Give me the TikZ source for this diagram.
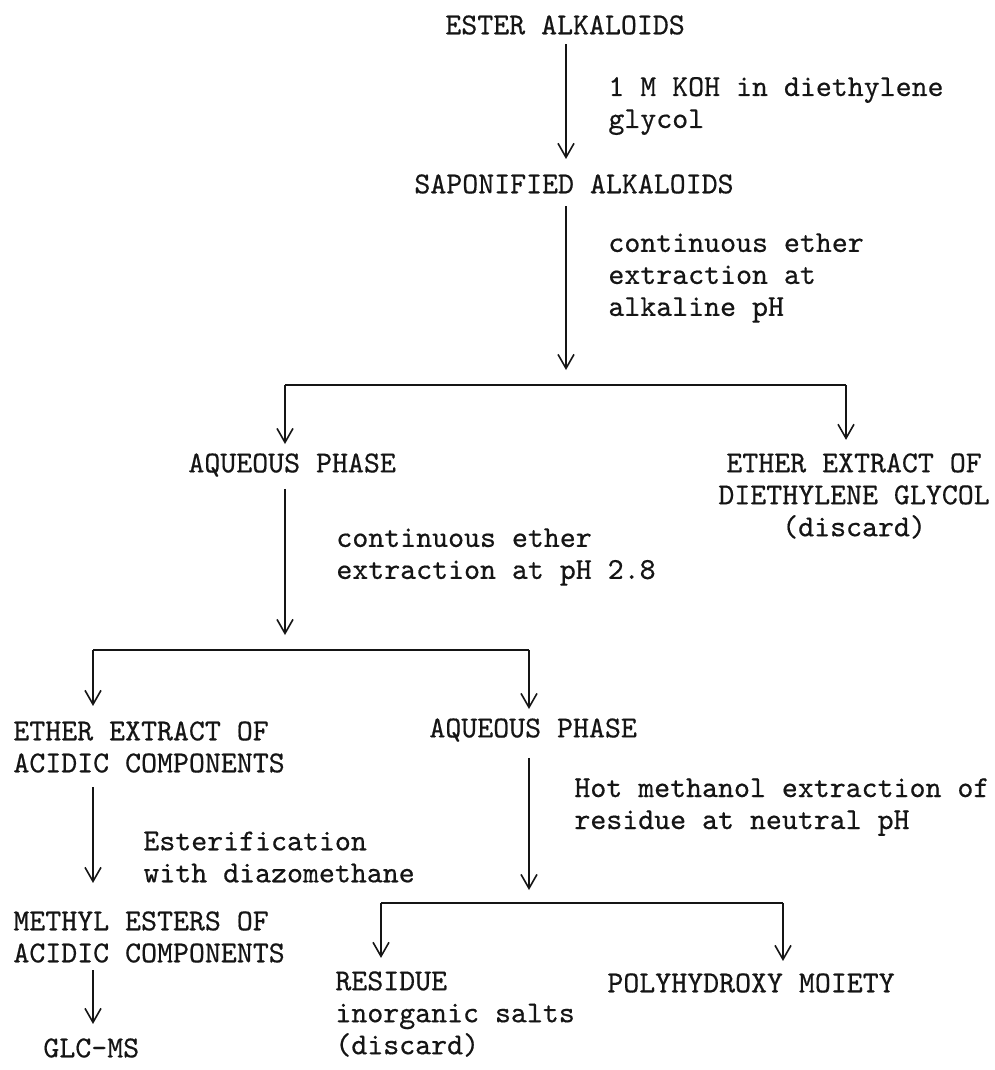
\documentclass[tikz,border=0pt]{standalone}
\usepackage{fontspec}
\newfontfamily\typewriter{lmmono10-regular.otf}[FakeBold=0.5]
\usetikzlibrary{arrows.meta, positioning}
\definecolor{ink}{HTML}{151515}
\tikzset{
  every picture/.style={font=\typewriter\fontsize{15.2pt}{16pt}\selectfont},
  txt/.style={anchor=west, inner sep=0pt, align=left, text=ink},
  arr/.style={-{Straight Barb[length=7pt, width=8pt]}, draw=ink, line width=0.8pt},
  bar/.style={draw=ink, line width=1.4pt},
}
\begin{document}
\begin{tikzpicture}[x=0.5pt, y=-0.5pt]
  \useasboundingbox (0,0) rectangle (995,1070);
  % main chain
  \node[txt] (ester) at (445,25) {ESTER ALKALOIDS};
  \node[txt] (koh) at (608,106) {1 M KOH in diethylene\\glycol};
  \node[txt] (sapon) at (414,184) {SAPONIFIED ALKALOIDS};
  \node[txt] (cont1) at (608,278) {continuous ether\\extraction at\\alkaline pH};
  % first split
  \coordinate (b1) at (566,385);
  \coordinate (b1l) at (285,385);
  \coordinate (b1r) at (846,385);
  \node[txt] (aq1) at (188,465) {AQUEOUS PHASE};
  \node[txt, align=center] (ether1) at (718,496) {ETHER EXTRACT OF\\DIETHYLENE GLYCOL\\(discard)};
  \node[txt] (cont2) at (336,557) {continuous ether\\extraction at pH 2.8};
  % second split
  \coordinate (b2) at (285,650);
  \coordinate (b2l) at (93,650);
  \coordinate (b2r) at (529,650);
  \node[txt] (ether2) at (13,747) {ETHER EXTRACT OF\\ACIDIC COMPONENTS};
  \node[txt] (aq2) at (429,730) {AQUEOUS PHASE};
  \node[txt] (esterif) at (143,857) {Esterification\\with diazomethane};
  \node[txt] (hot) at (574,807) {Hot methanol extraction of\\residue at neutral pH};
  \node[txt] (methyl) at (13,937) {METHYL ESTERS OF\\ACIDIC COMPONENTS};
  \node[txt] (glc) at (43,1048) {GLC-MS};
  % third split
  \coordinate (b3) at (529,903);
  \coordinate (b3l) at (381,903);
  \coordinate (b3r) at (783,903);
  \node[txt] (residue) at (335,1014) {RESIDUE\\inorganic salts\\(discard)};
  \node[txt] (poly) at (607,983) {POLYHYDROXY MOIETY};

  % connectors
  \draw[arr, shorten <=4.5pt, shorten >=7.5pt] (ester.south -| b1) -- (sapon.north -| b1);
  \draw[arr, shorten <=6pt, shorten >=7.5pt] (sapon.south -| b1) -- (b1);
  \draw[bar] (b1l) -- (b1r);
  \draw[arr, shorten >=4.5pt] (b1l) -- (b1l |- aq1.north);
  \draw[arr, shorten >=6.5pt] (b1r) -- (b1r |- ether1.north);
  \draw[arr, shorten <=6pt, shorten >=7.5pt] (aq1.south -| b2) -- (b2);
  \draw[bar] (b2l) -- (b2r);
  \draw[arr, shorten >=7.5pt] (b2l) -- (b2l |- ether2.north);
  \draw[arr, shorten >=4.5pt] (b2r) -- (b2r |- aq2.north);
  \draw[arr, shorten <=7pt, shorten >=14pt] (ether2.south -| b2l) -- (methyl.north -| b2l);
  \draw[arr, shorten <=3.5pt, shorten >=7pt] (methyl.south -| b2l) -- (glc.north -| b2l);
  \draw[arr, shorten <=8pt, shorten >=6.5pt] (aq2.south -| b3) -- (b3);
  \draw[bar] (b3l) -- (b3r);
  \draw[arr, shorten >=6.5pt] (b3l) -- (b3l |- residue.north);
  \draw[arr, shorten >=6pt] (b3r) -- (b3r |- poly.north);
\end{tikzpicture}
\end{document}
